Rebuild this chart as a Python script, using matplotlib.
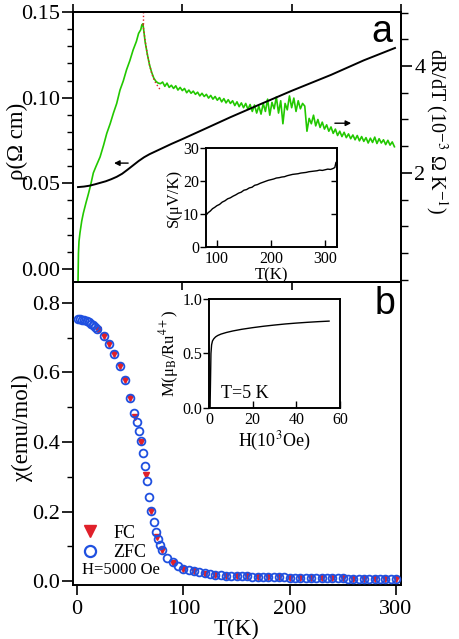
import matplotlib
matplotlib.use("Agg")
import matplotlib.pyplot as plt
from matplotlib.lines import Line2D
from matplotlib.ticker import MultipleLocator

plt.rcParams['font.family'] = ['Liberation Serif', 'DejaVu Serif']
plt.rcParams['mathtext.fontset'] = 'stix'

# ---- panel a: resistivity (left axis) ----
rho_T = [4.6, 10, 15, 20, 25, 30, 35, 40, 45, 50, 55, 60, 65, 70, 80, 90, 100,
         120, 144, 170, 200, 236, 266, 294.5]
rho = [0.0478, 0.0481, 0.0486, 0.0494, 0.0503, 0.0512, 0.0524, 0.0538, 0.0556,
       0.0580, 0.0605, 0.0630, 0.0652, 0.0670, 0.0700, 0.0730, 0.0758,
       0.0816, 0.0886, 0.0958, 0.1040, 0.1133, 0.1218, 0.1290]

# ---- panel a: dR/dT (right axis) ----
drdt_T = [4.6, 5.0, 5.5, 6.4, 8, 9.5, 12, 14, 16, 18.6, 21, 24.8, 28, 30.9, 34,
          37, 40, 43, 46, 49, 52, 55, 58, 60, 62, 63, 64, 66, 68, 70, 72, 74,
          76, 78, 80,
          82, 84, 86, 88, 90, 92, 94, 96, 98, 100, 102, 104, 106, 108, 110,
          112, 114, 116, 118, 120, 122, 124, 126, 128, 130, 132, 134, 136, 138,
          140, 142, 144, 146, 148, 150, 152, 154, 156, 158, 160, 162, 164, 166,
          168, 170, 172, 174, 176, 178, 180, 182, 184, 186, 188, 190, 192, 194,
          196, 198, 200, 202, 204, 206, 208, 210, 212, 214, 216, 218, 220, 222,
          224, 226, 228, 230, 232, 234, 236, 238, 240, 242, 244, 246, 248, 250,
          252, 254, 256, 258, 260, 262, 264, 266, 268, 270, 272, 274, 276, 278,
          280, 282, 284, 286, 288, 290, 292, 294]
drdt = [-0.05, 0.50, 0.72, 0.88, 1.10, 1.25, 1.45, 1.60, 1.76, 2.00, 2.12, 2.30,
        2.52, 2.74, 2.92, 3.12, 3.30, 3.55, 3.72, 3.93, 4.10, 4.30, 4.46, 4.61,
        4.68, 4.77, 4.79, 4.45, 4.22, 4.02, 3.88, 3.77, 3.71, 3.68, 3.67,
        3.70, 3.62, 3.68, 3.60, 3.64, 3.58, 3.63, 3.55, 3.60, 3.54, 3.58, 3.50,
        3.55, 3.49, 3.53, 3.47, 3.51, 3.44, 3.49, 3.43, 3.47, 3.40, 3.45, 3.38,
        3.43, 3.36, 3.41, 3.33, 3.39, 3.31, 3.37, 3.30, 3.35, 3.26, 3.33, 3.24,
        3.31, 3.22, 3.30, 3.19, 3.28, 3.15, 3.27, 3.12, 3.25, 3.10, 3.30, 3.15,
        3.38, 3.08, 3.32, 3.20, 3.42, 3.12, 3.35, 2.92, 3.30, 3.18, 3.44, 3.22,
        3.40, 3.15, 3.35, 3.20, 3.30, 3.25, 2.78, 3.02, 2.92, 3.08, 2.88, 3.00,
        2.85, 2.95, 2.82, 2.90, 2.78, 2.86, 2.74, 2.82, 2.70, 2.78, 2.68, 2.76,
        2.66, 2.73, 2.64, 2.71, 2.62, 2.70, 2.60, 2.68, 2.59, 2.66, 2.56, 2.65,
        2.57, 2.67, 2.55, 2.64, 2.56, 2.62, 2.53, 2.61, 2.52, 2.58, 2.49]

# red dotted guide on the drop
fit_T = [64, 66, 68, 70, 72, 74, 76, 78, 80]
fit_v = [4.78, 4.48, 4.22, 4.02, 3.86, 3.75, 3.67, 3.61, 3.55]
T_peak = 64

# ---- inset a: thermopower ----
S_T = [80, 84, 88, 92, 96, 100, 105, 110, 115, 120, 125, 130, 135, 140, 145,
       150, 155, 160, 165, 170, 175, 180, 185, 190, 195, 200, 205, 210, 215,
       220, 225, 230, 235, 240, 245, 250, 255, 260, 265, 270, 275, 280, 285,
       290, 295, 300, 305, 310, 315, 318, 320]
S = [9.6, 10.4, 10.9, 11.6, 12.0, 12.5, 12.9, 13.6, 14.0, 14.6, 14.9, 15.4,
     15.8, 16.3, 16.6, 17.2, 17.4, 17.9, 18.1, 18.7, 18.9, 19.3, 19.6, 19.9,
     20.2, 20.4, 20.6, 20.9, 21.0, 21.2, 21.3, 21.6, 21.8, 22.0, 22.1, 22.2,
     22.4, 22.5, 22.6, 22.8, 22.9, 23.0, 23.1, 23.3, 23.2, 23.4, 23.6, 23.5,
     23.8, 24.1, 25.6]

# ---- panel b: susceptibility ----
zfc_T = [1, 3, 5, 7, 9, 11, 13, 15, 17, 19, 25, 30, 35, 40, 45, 50, 54, 56, 58,
         60, 62, 64, 66, 68, 70, 72, 74, 76, 78, 80, 85, 90, 95, 100, 105, 110,
         115, 120, 125, 130, 135, 140, 145, 150, 155, 160, 165, 170, 175, 180,
         185, 190, 195, 200, 205, 210, 215, 220, 225, 230, 235, 240, 245, 250,
         255, 260, 265, 270, 275, 280, 285, 290, 295, 300]
zfc = [0.755, 0.754, 0.752, 0.750, 0.747, 0.744, 0.740, 0.736, 0.731, 0.724,
       0.704, 0.683, 0.654, 0.619, 0.578, 0.527, 0.484, 0.458, 0.432, 0.403,
       0.369, 0.331, 0.287, 0.242, 0.202, 0.170, 0.142, 0.120, 0.103, 0.089,
       0.068, 0.054, 0.044, 0.036, 0.031, 0.028, 0.025, 0.023, 0.021, 0.019,
       0.018, 0.016, 0.0155, 0.0148, 0.0142, 0.0137, 0.0132, 0.0127, 0.0122,
       0.0118, 0.0114, 0.0110, 0.0106, 0.0103, 0.0100, 0.0097, 0.0094, 0.0091,
       0.0089, 0.0086, 0.0084, 0.0082, 0.0080, 0.0078, 0.0076, 0.0074, 0.0072,
       0.0070, 0.0069, 0.0067, 0.0065, 0.0064, 0.0062, 0.0060]
fc_T = [20, 25, 30, 35, 40, 45, 50, 55, 60, 65, 70, 75, 80, 90, 100, 110, 120,
        130, 140, 150, 160, 170, 180, 190, 200, 210, 220, 230, 240, 250, 260,
        270, 280, 290, 300]
fc = [0.722, 0.704, 0.683, 0.654, 0.619, 0.578, 0.527, 0.471, 0.399, 0.305,
      0.202, 0.127, 0.089, 0.052, 0.036, 0.028, 0.022, 0.019, 0.016, 0.0148,
      0.0137, 0.0127, 0.0118, 0.0110, 0.0103, 0.0097, 0.0091, 0.0086, 0.0082,
      0.0078, 0.0074, 0.0070, 0.0067, 0.0064, 0.0060]

# ---- inset b: magnetisation at 5 K ----
H = [0, 0.5, 0.7, 0.9, 1.2, 1.6, 2.2, 3, 4, 5.5, 8, 11, 15, 20, 25, 30, 35, 40,
     45, 50, 55]
M = [0, 0.01, 0.25, 0.50, 0.58, 0.615, 0.635, 0.652, 0.665, 0.678, 0.693,
     0.707, 0.722, 0.737, 0.750, 0.761, 0.771, 0.779, 0.786, 0.792, 0.797]

green = '#22c800'
red = '#e0202a'
blue = '#1f50e0'
lw_frame = 1.4

fig = plt.figure(figsize=(4.59, 6.39), dpi=100)
ax1 = fig.add_axes([0.1590, 0.5587, 0.7146, 0.4225])
ax2 = fig.add_axes([0.1590, 0.0845, 0.7146, 0.4742])

# ----- top panel -----
ax1.plot(rho_T, rho, color='k', lw=1.4, zorder=3)
ax1.set_xlim(0, 300)
ax1.set_ylim(-0.0076, 0.15)
ax1.set_yticks([0.00, 0.05, 0.10, 0.15])
ax1.set_yticklabels(['0.00', '0.05', '0.10', '0.15'])
ax1.yaxis.set_minor_locator(MultipleLocator(0.01))
ax1.set_xticks([0, 100, 200, 300])
ax1.tick_params(axis='x', which='both', top=True, bottom=True,
                labelbottom=False, direction='out', length=6, width=1.2)
ax1.tick_params(axis='y', which='major', direction='out', length=8,
                width=1.2, labelsize=16, right=False, pad=1.5)
ax1.tick_params(axis='y', which='minor', direction='out', length=4,
                width=1.0, right=False)
ax1.set_ylabel(r'ρ(Ω cm)', fontsize=16.5)
ax1.yaxis.set_label_coords(-0.137, 0.52)
ax1.annotate('', xy=(35, 0.0618), xytext=(53, 0.0618),
             arrowprops=dict(arrowstyle='-|>', color='k', lw=1.0,
                             mutation_scale=8))
ax1.text(0.942, 0.925, 'a', transform=ax1.transAxes, fontsize=27,
         family='Liberation Sans', ha='center', va='center')

ax1r = ax1.twinx()
ax1r.plot(drdt_T, drdt, color=green, lw=1.2, zorder=2)
ax1r.plot(fit_T, fit_v, color=red, lw=1.0, ls=':', zorder=3)
ax1r.plot([T_peak, T_peak], [fit_v[0], 5.1], color=red, lw=1.0, ls=':')
ax1r.set_ylim(-0.04, 5.01)
ax1r.set_yticks([2, 4])
ax1r.yaxis.set_minor_locator(MultipleLocator(0.5))
ax1r.tick_params(axis='y', which='major', direction='out', length=8,
                 width=1.2, labelsize=16, pad=1.5)
ax1r.tick_params(axis='y', which='minor', direction='out', length=5,
                 width=1.0)
ax1r.set_ylabel(r'dR/dT (10$^{-3}$ Ω K$^{-1}$)', fontsize=14.5,
                rotation=270, va='center', ha='center')
ax1r.yaxis.set_label_coords(1.11, 0.56)
ax1r.annotate('', xy=(257, 2.93), xytext=(237, 2.93),
              arrowprops=dict(arrowstyle='-|>', color='k', lw=1.0,
                              mutation_scale=8))
ax1.set_zorder(ax1r.get_zorder() + 1)
ax1.patch.set_visible(False)
for a in (ax1, ax1r):
    for s in a.spines.values():
        s.set_linewidth(lw_frame)

# inset a
ins1 = fig.add_axes([0.4488, 0.6135, 0.2854, 0.1549])
ins1.plot(S_T, S, color='k', lw=1.0)
ins1.set_xlim(80, 322)
ins1.set_ylim(0, 30)
ins1.set_xticks([100, 200, 300])
ins1.set_yticks([0, 10, 20, 30])
ins1.tick_params(axis='x', direction='in', length=5, width=1.0,
                 labelsize=11.5, pad=3)
ins1.tick_params(axis='y', direction='out', length=4, width=1.0,
                 labelsize=11.5, pad=1)
sec = ins1.secondary_yaxis('right')
sec.set_yticks([10, 20])
sec.tick_params(direction='in', length=4, width=1.0, labelright=False)
ins1.set_xlabel('T(K)', fontsize=12, labelpad=0)
ins1.set_ylabel('S(μV/K)', fontsize=12, labelpad=1)
for s in ins1.spines.values():
    s.set_linewidth(lw_frame)
sec.spines['right'].set_linewidth(lw_frame)

# ----- bottom panel -----
ax2.plot(fc_T, fc, ls='none', marker='v', ms=4.2, color=red, zorder=3)
ax2.plot(zfc_T, zfc, ls='none', marker='o', ms=5.6, mfc='none', mec=blue,
         mew=1.3, zorder=4)
ax2.set_xlim(-3.8, 304.7)
ax2.set_ylim(-0.011, 0.86)
ax2.set_xticks([0, 100, 200, 300])
ax2.set_yticks([0.0, 0.2, 0.4, 0.6, 0.8])
ax2.set_yticklabels(['0.0', '0.2', '0.4', '0.6', '0.8'])
ax2.yaxis.set_minor_locator(MultipleLocator(0.1))
ax2.tick_params(axis='x', direction='out', length=7, width=1.2,
                labelsize=16)
ax2.tick_params(axis='y', which='major', direction='out', length=8,
                width=1.2, labelsize=16, pad=1.5)
ax2.tick_params(axis='y', which='minor', direction='out', length=4,
                width=1.0)
ax2.set_xlabel('T(K)', fontsize=16.5, labelpad=0)
ax2.set_ylabel('χ(emu/mol)', fontsize=16.5)
ax2.yaxis.set_label_coords(-0.122, 0.518)
for s in ax2.spines.values():
    s.set_linewidth(lw_frame)
ax2.text(0.951, 0.927, 'b', transform=ax2.transAxes, fontsize=27,
         family='Liberation Sans', ha='center', va='center')

handles = [Line2D([], [], ls='none', marker='v', ms=9, color=red),
           Line2D([], [], ls='none', marker='o', ms=8, mfc='none', mec=blue,
                  mew=1.6)]
ax2.legend(handles, ['FC', 'ZFC'], loc='lower left',
           bbox_to_anchor=(-0.037, 0.024), frameon=False, fontsize=13,
           handletextpad=0.6, labelspacing=0.15, handlelength=1.4)
ax2.text(0.027, 0.05, 'H=5000 Oe', transform=ax2.transAxes, fontsize=12,
         ha='left', va='center')

# inset b
ins2 = fig.add_axes([0.4553, 0.3615, 0.2854, 0.1706])
ins2.plot(H, M, color='k', lw=1.0)
ins2.set_xlim(0, 60)
ins2.set_ylim(0, 1.0)
ins2.set_xticks([0, 20, 40, 60])
ins2.set_yticks([0.0, 0.5, 1.0])
ins2.set_yticklabels(['0.0', '0.5', '1.0'])
ins2.tick_params(axis='x', direction='in', length=5, width=1.0,
                 labelsize=11.5, pad=3)
ins2.tick_params(axis='y', direction='out', length=4, width=1.0,
                 labelsize=11.5, pad=1)
ins2.set_xlabel(r'H(10$^{3}$Oe)', fontsize=13, labelpad=1)
ins2.set_ylabel(r'M(μ$_{\rm B}$/Ru$^{4+}$)', fontsize=12, labelpad=1)
ins2.text(0.09, 0.13, 'T=5 K', transform=ins2.transAxes, fontsize=13,
          ha='left', va='center')
for s in ins2.spines.values():
    s.set_linewidth(lw_frame)

fig.savefig('out.png', dpi=100)
